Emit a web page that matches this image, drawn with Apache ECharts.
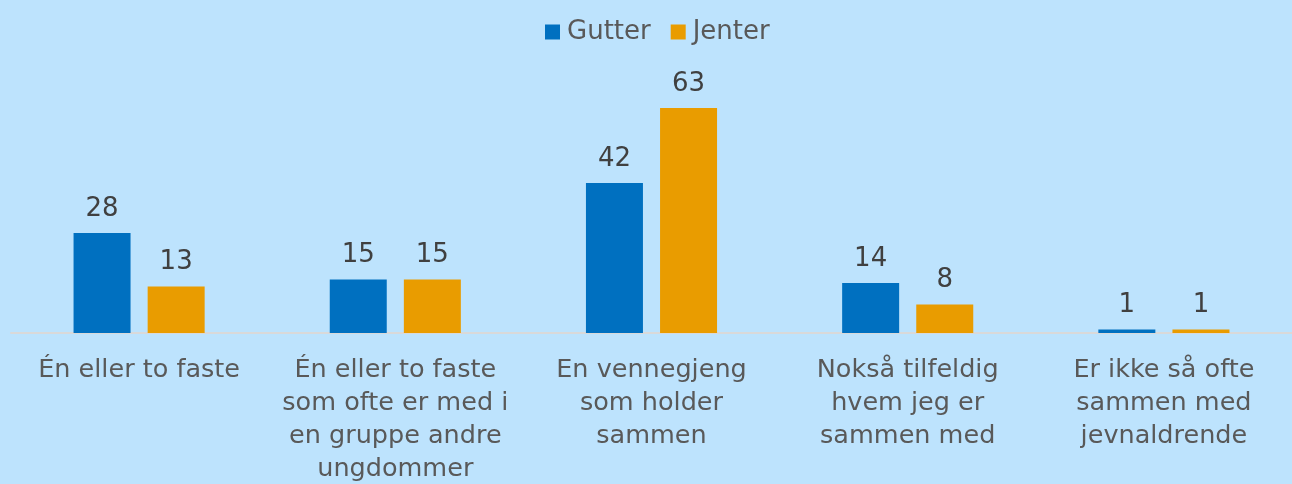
<!DOCTYPE html>
<html><head><meta charset="utf-8">
<script src="https://cdn.jsdelivr.net/npm/echarts@6/dist/echarts.min.js"></script>
<style>html,body{margin:0;padding:0;background:#BDE3FD;}#c{width:1292px;height:484px;}</style>
</head><body><div id="c"></div>
<script>
const categories = ["Én eller to faste", "Én eller to faste\nsom ofte er med i\nen gruppe andre\nungdommer", "En vennegjeng\nsom holder\nsammen", "Nokså tilfeldig\nhvem jeg er\nsammen med", "Er ikke så ofte\nsammen med\njevnaldrende"];
const gutter = [28, 15, 42, 14, 1];
const jenter = [13, 15, 63, 8, 1];
const chart = echarts.init(document.getElementById('c'));
const FF = 'DejaVu Sans, sans-serif';
const lbl = {show:true, position:'top', distance:11, color:'#404040', fontSize:26, fontFamily:FF};
chart.setOption({
  backgroundColor:'#BDE3FD',
  legend:{top:14, left:540, itemWidth:15, itemHeight:15, itemGap:20, icon:'rect',
    textStyle:{color:'#595959', fontSize:26, fontFamily:FF, padding:[0,0,0,2]}, data:['Gutter','Jenter']},
  grid:{left:11, right:0, top:83, bottom:151, outerBoundsMode:'none'},
  xAxis:{type:'category', data:categories, axisTick:{show:false},
    axisLine:{lineStyle:{color:'#D9D9D9', width:2}},
    axisLabel:{color:'#595959', fontSize:25.5, lineHeight:33, margin:21, interval:0, fontFamily:FF}},
  yAxis:{type:'value', min:0, max:70, show:false, splitLine:{show:false}},
  series:[
    {name:'Gutter', type:'bar', data:gutter, barWidth:57, barGap:'30%', itemStyle:{color:'#0070C0'}, label:lbl},
    {name:'Jenter', type:'bar', data:jenter, barWidth:57, itemStyle:{color:'#E99C00'}, label:lbl}
  ]
});
</script></body></html>
